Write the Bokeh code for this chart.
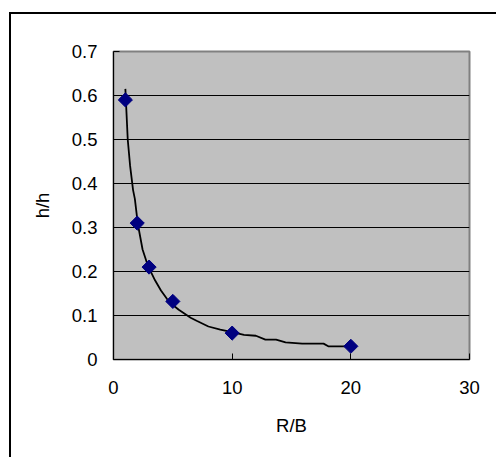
import numpy as np
from bokeh.plotting import figure
from bokeh.models import FixedTicker
from bokeh.embed import file_html
from bokeh.resources import INLINE

# measured points
rb = [1, 2, 3, 5, 10, 20]
hh = [0.59, 0.31, 0.21, 0.132, 0.06, 0.03]

# trend curve
curve_x = [1.0, 1.2, 1.4, 1.65, 1.8, 2.05, 2.45, 2.85, 3.05, 3.5, 4.0, 4.5, 5.0, 5.5,
           6.5, 7.0, 8.0, 9.0, 10.0, 11.0, 12.0, 12.8, 13.7, 14.5, 15.9, 17.7, 18.1, 20.0]
curve_y = [0.615, 0.50, 0.44, 0.385, 0.365, 0.308, 0.25, 0.217, 0.205, 0.18, 0.157, 0.138,
           0.124, 0.113, 0.095, 0.088, 0.075, 0.068, 0.062, 0.056, 0.054, 0.045, 0.045,
           0.039, 0.036, 0.036, 0.030, 0.030]

x_ticks = [0, 10, 20, 30]
x_labels = ["0", "10", "20", "30"]
y_ticks = [0, 0.1, 0.2, 0.3, 0.4, 0.5, 0.6, 0.7]
y_labels = ["0", "0.1", "0.2", "0.3", "0.4", "0.5", "0.6", "0.7"]

FONT = "Liberation Sans"
FS = "18.5px"

p = figure(width=487, height=445, output_backend="svg", toolbar_location=None,
           x_range=(0, 30), y_range=(0, 0.7),
           min_border_left=102, min_border_right=29, min_border_top=37, min_border_bottom=100)
p.styles = {"position": "relative", "left": "9px", "top": "12px",
            "border-top": "2px solid black", "border-left": "2px solid black"}

p.background_fill_color = "#C0C0C0"
p.border_fill_color = "white"
p.outline_line_color = "#808080"
p.outline_line_width = 2

p.xgrid.visible = False
p.ygrid.grid_line_color = "black"
p.ygrid.grid_line_width = 1
p.ygrid.ticker = FixedTicker(ticks=y_ticks)

for ax in (p.xaxis[0], p.yaxis[0]):
    ax.axis_line_color = "black"
    ax.axis_line_width = 1
    ax.major_tick_in = 6
    ax.major_tick_out = 0
    ax.major_tick_line_color = "black"
    ax.minor_tick_line_color = None
    ax.major_label_text_font = FONT
    ax.major_label_text_font_size = FS
    ax.major_label_text_color = "black"
    ax.axis_label_text_font = FONT
    ax.axis_label_text_font_size = FS
    ax.axis_label_text_font_style = "normal"
    ax.axis_label_text_color = "black"

p.xaxis.ticker = FixedTicker(ticks=x_ticks)
p.xaxis.major_label_overrides = dict(zip(x_ticks, x_labels))
p.yaxis.ticker = FixedTicker(ticks=y_ticks)
p.yaxis.major_label_overrides = dict(zip(y_ticks, y_labels))

p.xaxis.axis_label = "R/B"
p.yaxis.axis_label = "h/h"
p.xaxis.major_label_standoff = 21
p.xaxis.axis_label_standoff = 18
p.yaxis.major_label_standoff = 16
p.yaxis.axis_label_standoff = 16

p.line(curve_x, curve_y, line_color="black", line_width=1.8)
p.scatter(rb, hh, marker="square", angle=np.pi / 4, size=10,
          fill_color="#000080", line_color="#000080")

open("out.html", "w").write(file_html(p, INLINE))
